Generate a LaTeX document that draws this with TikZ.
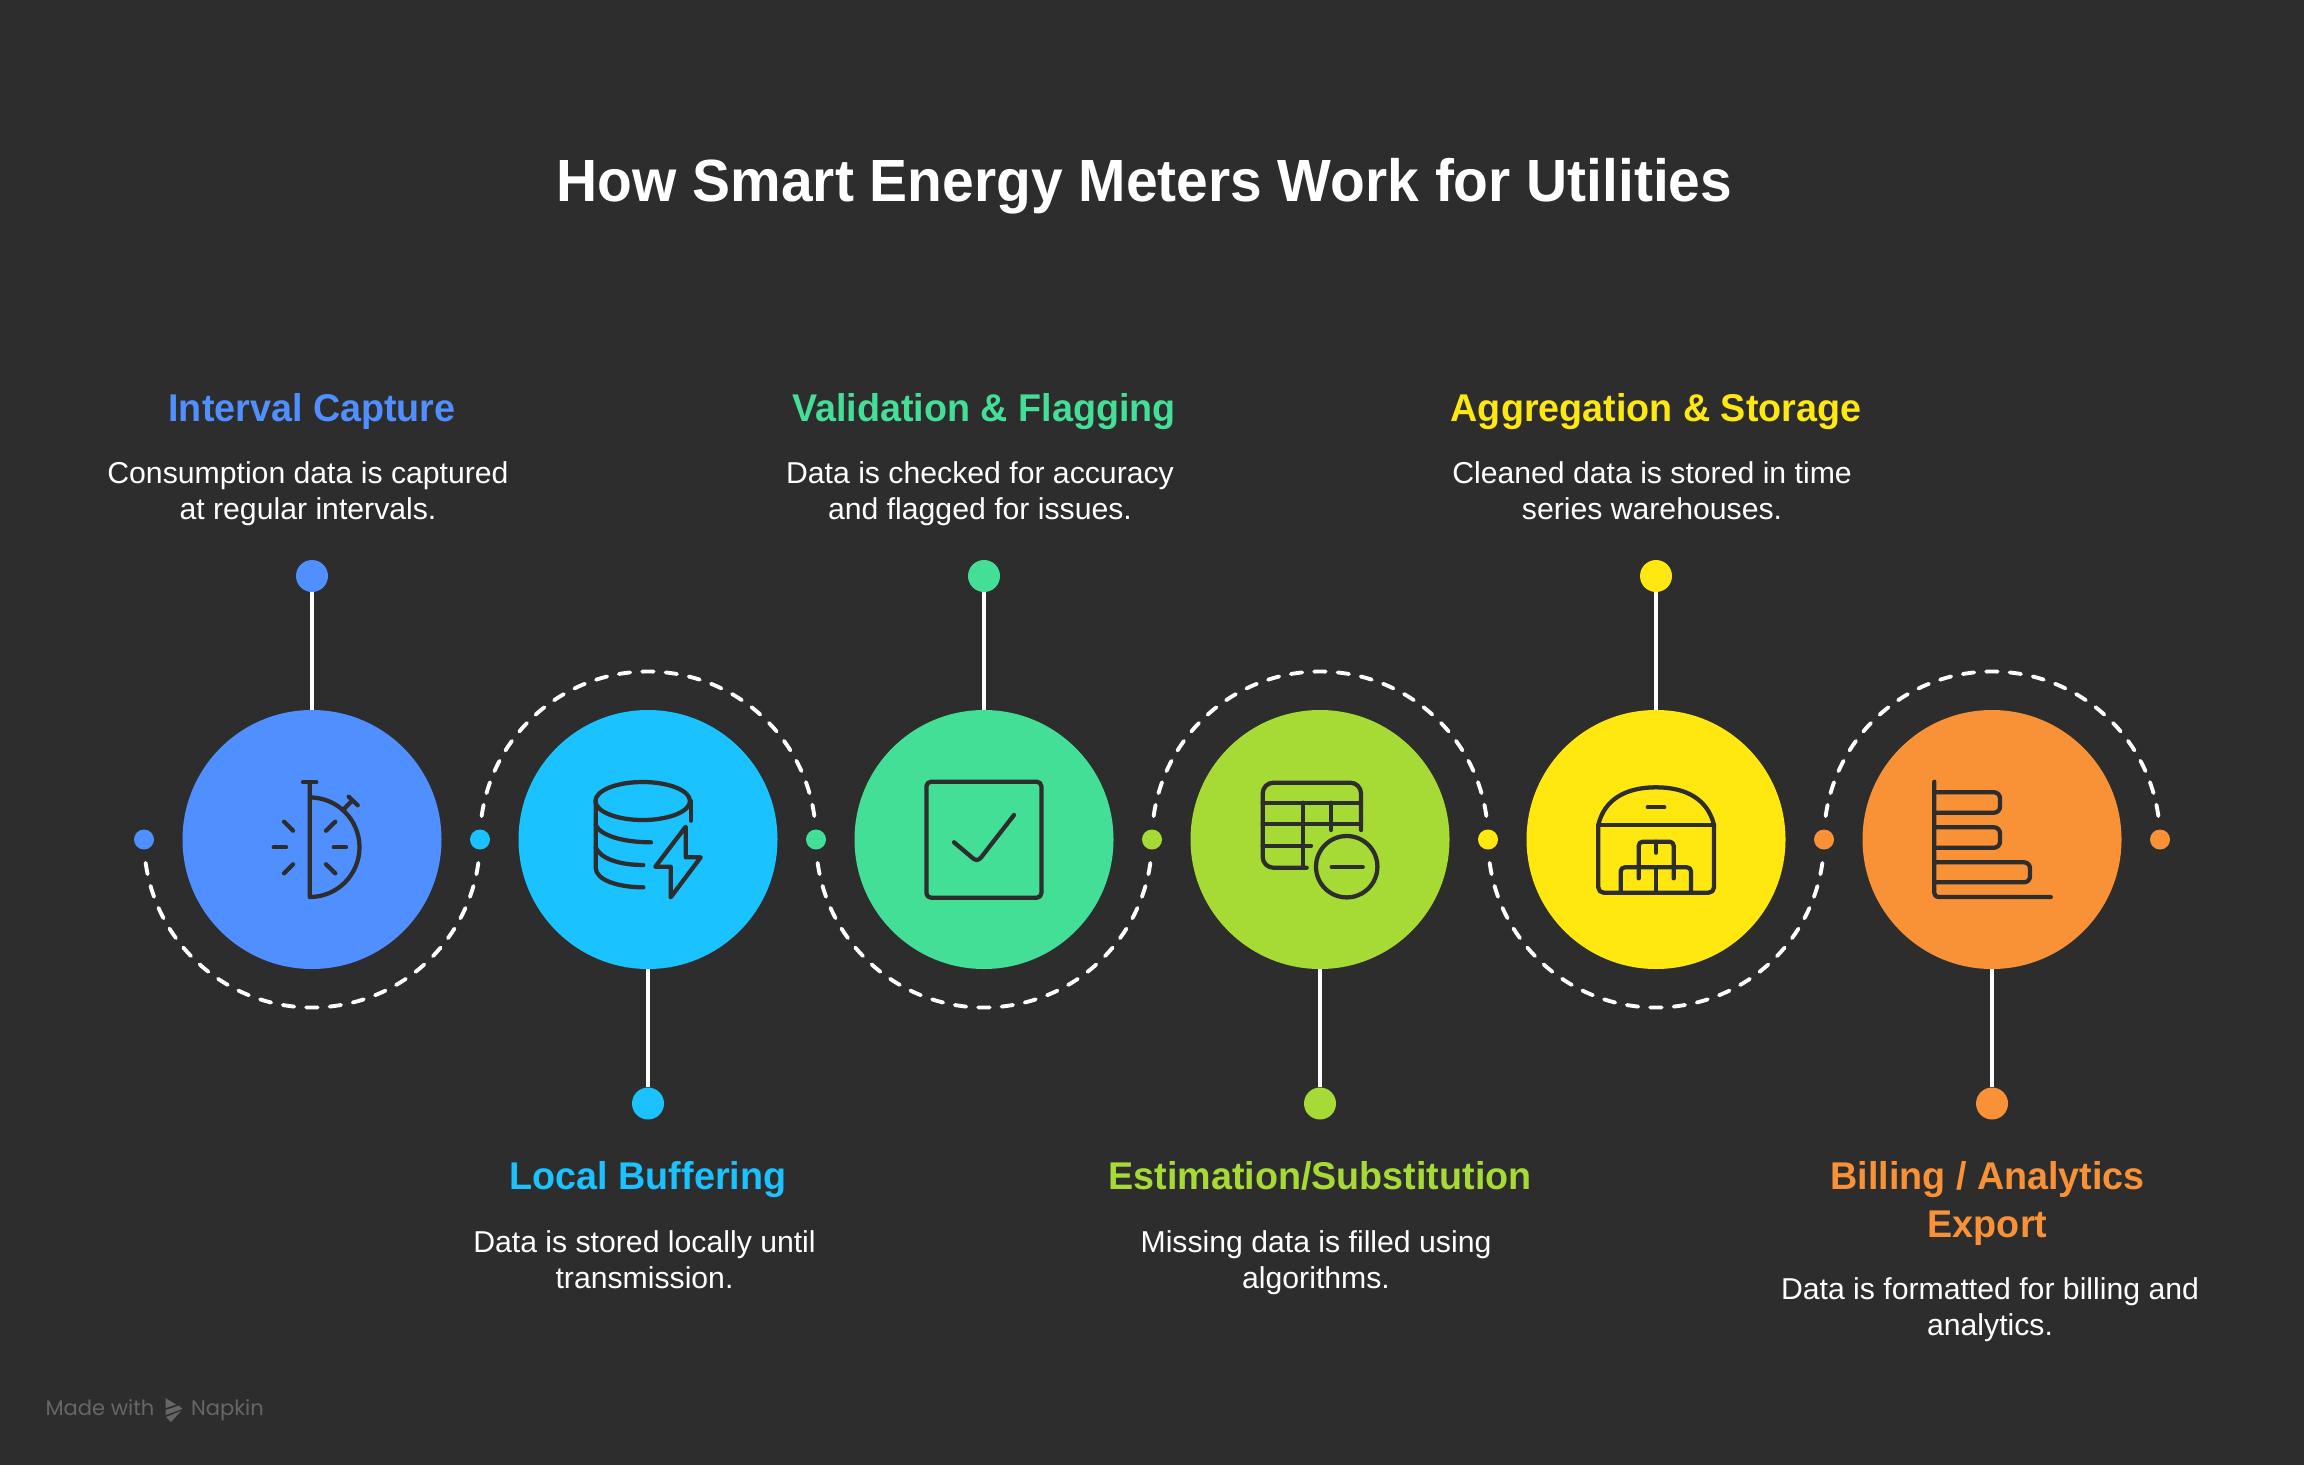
\documentclass[tikz,border=0pt]{standalone}
\usepackage{fontspec}
\setmainfont{Liberation Sans}
\newfontfamily\headfam[FakeStretch=0.955]{Liberation Sans}
\newfontfamily\labelfam[FakeStretch=0.975]{Liberation Sans}
\newfontfamily\markfont{Poppins}
\newcommand\dst{\rule[-5.25pt]{0pt}{21.75pt}}
\newcommand\tst{\rule[-6pt]{0pt}{28pt}}
\definecolor{bgc}{HTML}{2D2D2D}
\definecolor{cblue}{HTML}{4F8FFF}
\definecolor{ccyan}{HTML}{1AC2FF}
\definecolor{cgreen}{HTML}{43DF96}
\definecolor{clime}{HTML}{A6DB35}
\definecolor{cyel}{HTML}{FFE810}
\definecolor{corg}{HTML}{F99236}
\definecolor{cmark}{HTML}{666666}
\tikzset{
  disc/.style={circle,fill=#1,draw=none,inner sep=0pt,minimum size=194.25pt},
  pindot/.style={circle,fill=#1,draw=none,inner sep=0pt,minimum size=24pt},
  smalldot/.style={circle,fill=#1,draw=none,inner sep=0pt,minimum size=15pt},
  stem/.style={draw=white,line width=3.3pt},
  dashline/.style={draw=white,line width=2.9pt,line cap=round,dash pattern=on 8.6pt off 9pt},
  icon/.style={draw=bgc,line width=3.2pt,line cap=round,line join=round},
  headtext/.style={text=white,font=\headfam\bfseries\fontsize{44.7}{50}\selectfont,inner sep=0pt,anchor=base},
  steptitle/.style={text=#1,font=\labelfam\bfseries\fontsize{29}{36}\selectfont,align=center,inner sep=0pt,anchor=base},
  steptitletwo/.style={text=#1,font=\labelfam\bfseries\fontsize{29}{36}\selectfont,align=center,inner sep=0pt},
  stepdesc/.style={text=white,font=\fontsize{22.65}{27}\selectfont,align=center,inner sep=0pt},
  marktext/.style={text=cmark,font=\markfont\fontsize{15.8}{18}\selectfont,inner sep=0pt,anchor=base},
}
\begin{document}
\begin{tikzpicture}[x=.75pt,y=.75pt,yscale=-1]
\useasboundingbox (0,0) rectangle (2304,1464);
\fill[bgc] (-6,-6) rectangle (2310,1470);
% pins
\node[pindot=cblue] (p1) at (312,576) {};
\node[pindot=ccyan] (p2) at (648,1103.5) {};
\node[pindot=cgreen] (p3) at (984,576) {};
\node[pindot=clime] (p4) at (1320,1103.5) {};
\node[pindot=cyel] (p5) at (1656,576) {};
\node[pindot=corg] (p6) at (1992,1103.5) {};
% discs
\node[disc=cblue] (c1) at (312,839.5) {};
\node[disc=ccyan] (c2) at (648,839.5) {};
\node[disc=cgreen] (c3) at (984,839.5) {};
\node[disc=clime] (c4) at (1320,839.5) {};
\node[disc=cyel] (c5) at (1656,839.5) {};
\node[disc=corg] (c6) at (1992,839.5) {};
\foreach \i in {1,...,6} \draw[stem] (p\i) -- (c\i);
% small dots
\node[smalldot=cblue] (d0) at (144,839.5) {};
\node[smalldot=ccyan] (d1) at (480,839.5) {};
\node[smalldot=cgreen] (d2) at (816,839.5) {};
\node[smalldot=clime] (d3) at (1152,839.5) {};
\node[smalldot=cyel] (d4) at (1488,839.5) {};
\node[smalldot=corg] (d5) at (1824,839.5) {};
\node[smalldot=corg] (d6) at (2160,839.5) {};
% dashed arcs
\foreach \i in {1,3,5} \draw[dashline] (c\i.center) ++(172:168) arc[start angle=172,end angle=8,radius=168];
\foreach \i in {2,4,6} \draw[dashline] (c\i.center) ++(188:168) arc[start angle=188,end angle=352,radius=168];
\begin{scope}[icon]
% icon 1
\draw (303,782.3) -- (316.3,782.3);
\draw (309.7,782.3) -- (309.7,897) arc[start angle=90,end angle=-90,radius=49.8];
\draw (343.7,809.3) -- (352,800.7);
\draw (348.7,796.7) -- (357.7,805.3);
\draw (333.7,847.3) -- (346,847.3);
\draw (273.7,847.3) -- (286,847.3);
\draw (326,830.7) -- (335.3,821.7);
\draw (326,864.3) -- (335.3,873.3);
\draw (284,821.7) -- (293,830.7);
\draw (284,873.3) -- (293,864.3);
% icon 2
\draw (642.7,801) ellipse[x radius=47.3,y radius=19];
\draw (595.7,801) -- (595.7,868) .. controls (596,880) and (618,887.3) .. (643.3,887.3);
\draw (691,801) -- (691,820.7);
\draw (595.7,825) .. controls (600,835) and (622,842.3) .. (651,842.3);
\draw (595.7,847.3) .. controls (600,858) and (618,865) .. (643.3,865);
\draw (685.7,826.7) -- (685.7,857.3) -- (700.7,857.3) -- (670.7,897.3) -- (670.7,866.7) -- (655.3,866.7) -- cycle;
% icon 3
\draw[rounded corners=3.5pt] (926.4,781.7) rectangle (1041.4,897.7);
\draw (954,842.3) -- (972,857.5) .. controls (975,860.5) and (978,861) .. (981,857.5) -- (1014,815);
% icon 4
\draw[rounded corners=8pt] (1361,830) -- (1361,782.7) -- (1262.7,782.7) -- (1262.7,867.7) -- (1306.7,867.7);
\draw (1262.7,802.7) -- (1361,802.7);
\draw (1262.7,824) -- (1361,824);
\draw (1262.7,845.7) -- (1311,845.7);
\draw (1302.7,802.7) -- (1302.7,867.7);
\draw (1331,802.7) -- (1331,830);
\draw (1346.7,866.7) circle[radius=30.7];
\draw (1331.7,866.7) -- (1362.7,866.7);
% icon 5
\draw (1598.3,825) .. controls (1604,800) and (1625,787.3) .. (1656,787.3) .. controls (1687,787.3) and (1708,800) .. (1714,825);
\draw (1598.3,825) -- (1714,825);
\draw[rounded corners=4pt] (1598.3,825) -- (1598.3,892.7) -- (1714,892.7) -- (1714,825);
\draw (1647.7,807.3) -- (1664.3,807.3);
\draw[rounded corners=3pt] (1620.7,892.7) -- (1620.7,867.3) -- (1691,867.3) -- (1691,892.7);
\draw (1656,867.3) -- (1656,892.7);
\draw[rounded corners=3pt] (1638.7,878.3) -- (1638.7,841.7) -- (1673.7,841.7) -- (1673.7,878.3);
\draw (1656,841.7) -- (1656,852.7);
% icon 6
\draw[rounded corners=3pt] (1934.3,781.7) -- (1934.3,897) -- (2050.7,897);
\draw[rounded corners=4.5pt] (1934.3,792.3) -- (2000,792.3) -- (2000,812.7) -- (1934.3,812.7);
\draw[rounded corners=4.5pt] (1934.3,827.3) -- (2000,827.3) -- (2000,847.7) -- (1934.3,847.7);
\draw[rounded corners=4.5pt] (1934.3,862.3) -- (2030,862.3) -- (2030,882.3) -- (1934.3,882.3);
\end{scope}
% text
\node[headtext] (title) at (1144.6,201) {How Smart Energy Meters Work for Utilities};
\node[steptitle=cblue] (t1) at (312,421.7) {Interval Capture};
\node[stepdesc] (s1) at (308,493.8) {\dst Consumption data is captured\\\dst at regular intervals.};
\node[steptitle=ccyan] (t2) at (648,1189.3) {Local Buffering};
\node[stepdesc] (s2) at (644.5,1262.6) {\dst Data is stored locally until\\\dst transmission.};
\node[steptitle=cgreen] (t3) at (984,421.7) {Validation \& Flagging};
\node[stepdesc] (s3) at (980,493.8) {\dst Data is checked for accuracy\\\dst and flagged for issues.};
\node[steptitle=clime] (t4) at (1320,1189.3) {Estimation/Substitution};
\node[stepdesc] (s4) at (1316,1262.6) {\dst Missing data is filled using\\\dst algorithms.};
\node[steptitle=cyel] (t5) at (1656,421.7) {Aggregation \& Storage};
\node[stepdesc] (s5) at (1652,493.8) {\dst Cleaned data is stored in time\\\dst series warehouses.};
\node[steptitletwo=corg] (t6) at (1987.5,1202.6) {\tst Billing / Analytics\\\tst Export};
\node[stepdesc] (s6) at (1990,1310.4) {\dst Data is formatted for billing and\\\dst analytics.};
% watermark
\node[marktext] (m1) at (100,1415.7) {Made with};
\node[marktext] (m2) at (227.5,1415.7) {Napkin};
\fill[cmark] (165.5,1398) -- (176,1404.5) -- (165.5,1408) -- cycle;
\fill[cmark] (165.5,1410) -- (179,1405.5) -- (182.5,1409) -- (165.5,1415) -- cycle;
\fill[cmark] (166,1417) -- (181,1411) -- (171,1422) -- cycle;
\end{tikzpicture}
\end{document}
